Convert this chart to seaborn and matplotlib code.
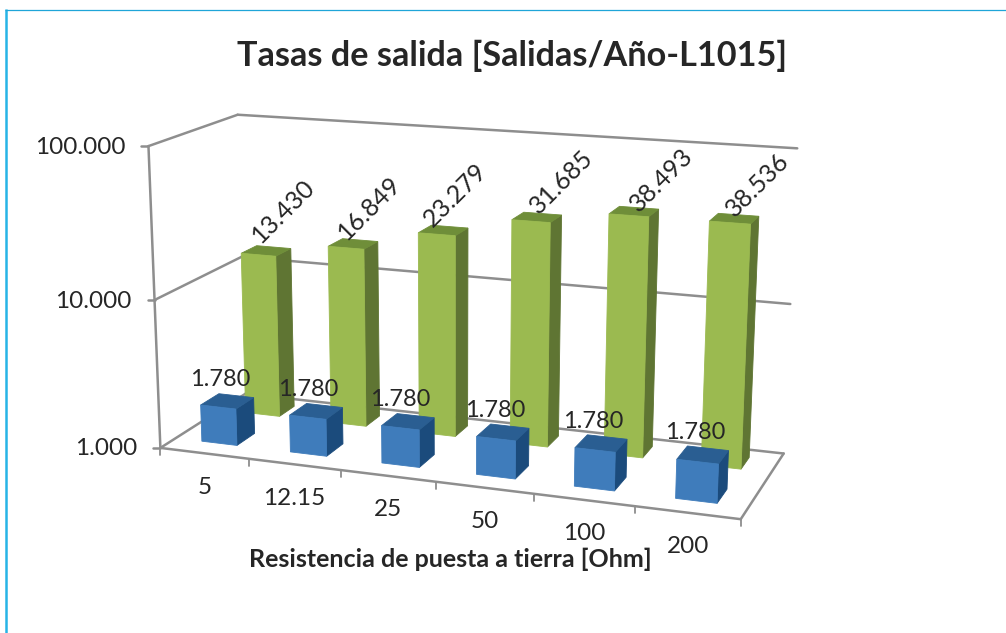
import numpy as np
import pandas as pd
import matplotlib
matplotlib.use("Agg")
import matplotlib.pyplot as plt
from matplotlib.patches import Polygon
import seaborn as sns

# ---- data -------------------------------------------------------------
categories = ["5", "12.15", "25", "50", "100", "200"]
series_back = [13430, 16849, 23279, 31685, 38493, 38536]
series_front = [1780, 1780, 1780, 1780, 1780, 1780]
back_labels = ["13.430", "16.849", "23.279", "31.685", "38.493", "38.536"]
front_labels = ["1.780"] * 6
y_ticks = [1000, 10000, 100000]
y_tick_labels = ["1.000", "10.000", "100.000"]
title = "Tasas de salida [Salidas/Año-L1015]"
x_title = "Resistencia de puesta a tierra [Ohm]"

# ---- style ------------------------------------------------------------
sns.set_theme(style="white")
plt.rcParams["font.family"] = ["Lato", "DejaVu Sans"]
INK = "#262626"
GRID = "#8E8E8E"
FACES = {
    "front": {"front": "#3F7CBB", "top": "#2A5E92", "side": "#1B4B7C"},
    "back": {"front": "#9BBA50", "top": "#6F8E39", "side": "#5F7533"},
}

W, H = 1006, 633
fig = plt.figure(figsize=(W / 100, H / 100), dpi=100, facecolor="white")
ax = fig.add_axes([0, 0, 1, 1])
ax.set_xlim(0, W)
ax.set_ylim(H, 0)
ax.axis("off")

# ---- 3D camera calibrated on the chart box (cat, decade, depth) -> pixel
calib = [
    (0, 0, 0, 161, 446), (6, 0, 0, 741, 518), (6, 0, 1, 784, 452), (0, 0, 1, 244, 394),
    (0, 2, 0, 147, 146), (0, 2, 1, 239, 115), (6, 2, 1, 797, 149),
    (0, 1, 0, 155, 298), (0, 1, 1, 241, 258), (6, 1, 1, 791, 303),
    (1, 0, 0, 250, 459), (2, 0, 0, 342, 471), (3, 0, 0, 436, 483),
    (4, 0, 0, 533, 496), (5, 0, 0, 634, 507),
]
A, b = [], []
for X, Y, Z, u, v in calib:
    A.append([X, Y, Z, 1, 0, 0, 0, 0, -u * X, -u * Y, -u * Z]); b.append(u)
    A.append([0, 0, 0, 0, X, Y, Z, 1, -v * X, -v * Y, -v * Z]); b.append(v)
p = np.linalg.lstsq(np.array(A, float), np.array(b, float), rcond=None)[0]
P = np.append(p, 1.0).reshape(3, 4)


def proj(X, Y, Z):
    q = P @ np.array([X, Y, Z, 1.0])
    return q[0] / q[2], q[1] / q[2]


def decade(v):
    return np.log10(v / y_ticks[0])


def line(a, b_, lw=1.8, color=GRID, z=1):
    ax.plot([a[0], b_[0]], [a[1], b_[1]], color=color, lw=lw, solid_capstyle="round", zorder=z)


# ---- walls, floor, gridlines --------------------------------------------
n = len(categories)
for t in y_ticks:
    d = decade(t)
    line(proj(0, d, 0), proj(0, d, 1))
    line(proj(0, d, 1), proj(n, d, 1))
    fx, fy = proj(0, d, 0)
    line((fx - 7, fy), (fx, fy))
ymax = decade(y_ticks[-1])
line(proj(0, 0, 0), proj(0, ymax, 0))
line(proj(0, 0, 0), proj(n, 0, 0))
line(proj(n, 0, 0), proj(n, 0, 1))
for c in range(n + 1):
    tx, ty = proj(c, 0, 0)
    line((tx, ty), (tx, ty + 7), lw=1.3)

# ---- bars: seaborn lays out the bars on a helper axes, then projected ---
df = pd.DataFrame({
    "cat": categories * 2,
    "decades": [decade(v) for v in series_back + series_front],
    "serie": ["back"] * n + ["front"] * n,
})
helper = fig.add_axes([0, 0, 1, 1])
sns.barplot(data=df, x="cat", y="decades", hue="serie", order=categories, hue_order=["back", "front"],
            dodge=False, width=0.4, errorbar=None, legend=False, ax=helper)
layout = {"back": helper.containers[0], "front": helper.containers[1]}
helper.set_visible(False)

DEPTH = {"back": (0.69, 0.88), "front": (0.17, 0.38)}
SHIFT = 0.50
tops = {"back": [], "front": []}


def poly(points, color, z):
    ax.add_patch(Polygon(points, closed=True, facecolor=color, edgecolor=color, lw=0.6, zorder=z))


for k, (name, container) in enumerate(layout.items()):
    z0, z1 = DEPTH[name]
    col = FACES[name]
    for i, bar in enumerate(container):
        c0 = bar.get_x() + SHIFT
        c1 = c0 + bar.get_width()
        h = bar.get_height()
        base_z = 3 + k * 2
        poly([proj(c1, 0, z0), proj(c1, 0, z1), proj(c1, h, z1), proj(c1, h, z0)], col["side"], base_z)
        poly([proj(c0, h, z0), proj(c1, h, z0), proj(c1, h, z1), proj(c0, h, z1)], col["top"], base_z)
        poly([proj(c0, 0, z0), proj(c1, 0, z0), proj(c1, h, z0), proj(c0, h, z0)], col["front"], base_z + 0.5)
        tops[name].append(proj((c0 + c1) / 2, h, (z0 + z1) / 2))

# ---- text ---------------------------------------------------------------
label_nudge = [(17, -40), (16, -36), (12, -35), (25, -35), (27, -32), (23, -34)]
for (tx, ty), s, (dx, dy) in zip(tops["back"], back_labels, label_nudge):
    ax.text(tx + dx, ty + dy, s, rotation=45, ha="center", va="center", fontsize=18, color=INK, zorder=10)
for (tx, ty), s in zip(tops["front"], front_labels):
    ax.text(tx - 7.5, ty - 22, s, ha="center", va="center", fontsize=17, color=INK, zorder=10)
for t, s in zip(y_ticks, y_tick_labels):
    fx, fy = proj(0, decade(t), 0)
    ax.text(fx - 23, fy + 1, s, ha="right", va="center", fontsize=17.5, color=INK, zorder=10)
for i, s in enumerate(categories):
    tx, ty = proj(i + 0.5, 0, 0)
    ax.text(tx, ty + 34, s, ha="center", va="center", fontsize=17.5, color=INK, zorder=10)

ax.text(512, 56, title, ha="center", va="center", fontsize=24.7, fontweight="bold", color=INK)
ax.text(450, 559, x_title, ha="center", va="center", fontsize=18, fontweight="bold", color=INK)

# ---- slide frame ----------------------------------------------------------
ax.plot([6, 6], [9, H], color="#27B4E6", lw=1.8, solid_capstyle="butt", zorder=20)
ax.plot([5, W], [9.5, 9.5], color="#1FA5D8", lw=0.9, solid_capstyle="butt", zorder=20)

fig.savefig("out.png", dpi=100, facecolor="white")
